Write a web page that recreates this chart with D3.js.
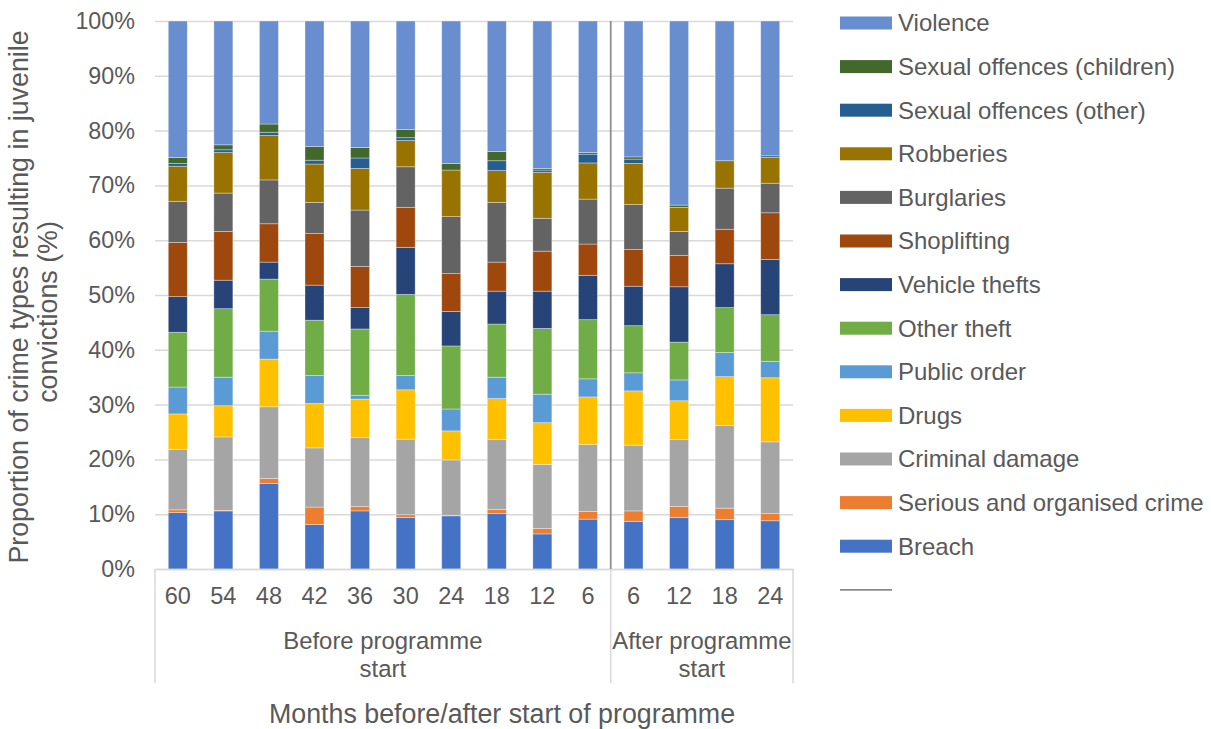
<!DOCTYPE html>
<html>
<head>
<meta charset="utf-8">
<script src="https://cdn.jsdelivr.net/npm/d3@7"></script>
<style>
  html, body { margin: 0; padding: 0; background: #ffffff; }
  svg { display: block; font-family: "Liberation Sans", Arial, sans-serif; }
  text { fill: #595959; }
</style>
</head>
<body>
<svg id="chart" width="1211" height="729"></svg>
<script>
// Months relative to programme start, grouped into before / after
const monthLabels = ["60", "54", "48", "42", "36", "30", "24", "18", "12", "6", "6", "12", "18", "24"];
const periodGroups = [
  { lines: ["Before programme", "start"], from: 0, to: 10 },
  { lines: ["After programme", "start"], from: 10, to: 14 }
];

// Share of juvenile convictions by crime type (%), bottom of stack first
const seriesNames = [
  "Breach", "Serious and organised crime", "Criminal damage", "Drugs", "Public order",
  "Other theft", "Vehicle thefts", "Shoplifting", "Burglaries", "Robberies",
  "Sexual offences (other)", "Sexual offences (children)", "Violence"
];
const breach         = [10.3, 10.6, 15.6, 8.1, 10.6, 9.4, 9.7, 10.1, 6.4, 9.1, 8.7, 9.4, 9.0, 8.8];
const seriousCrime   = [0.5, 0.1, 0.9, 3.2, 0.8, 0.5, 0.1, 0.8, 1.0, 1.4, 1.9, 2.0, 2.1, 1.3];
const criminalDamage = [11.0, 13.4, 13.1, 10.8, 12.6, 13.8, 10.1, 12.7, 11.7, 12.2, 12.0, 12.2, 15.1, 13.1];
const drugs          = [6.5, 5.7, 8.7, 8.1, 7.0, 9.0, 5.3, 7.5, 7.6, 8.7, 9.9, 7.1, 8.9, 11.7];
const publicOrder    = [4.9, 5.2, 5.1, 5.1, 0.7, 2.6, 4.0, 3.9, 5.2, 3.3, 3.3, 3.8, 4.4, 3.0];
const otherTheft     = [10.0, 12.5, 9.5, 10.1, 12.1, 14.8, 11.5, 9.7, 12.0, 10.8, 8.6, 6.9, 8.2, 8.5];
const vehicleThefts  = [6.5, 5.2, 3.1, 6.4, 3.9, 8.6, 6.3, 6.0, 6.8, 8.1, 7.2, 10.1, 8.0, 10.1];
const shoplifting    = [9.9, 8.9, 7.0, 9.4, 7.5, 7.3, 6.9, 5.3, 7.3, 5.7, 6.7, 5.7, 6.3, 8.5];
const burglaries     = [7.5, 7.0, 8.0, 5.7, 10.3, 7.4, 10.4, 10.9, 6.0, 8.2, 8.2, 4.4, 7.5, 5.4];
const robberies      = [6.4, 7.4, 8.1, 7.0, 7.6, 4.8, 8.5, 5.8, 8.4, 6.6, 7.5, 4.4, 5.0, 4.7];
const sexualOther    = [0.5, 0.5, 0.6, 0.7, 1.9, 0.5, 0.0, 1.8, 0.4, 1.6, 0.8, 0.0, 0.0, 0.3];
const sexualChildren = [1.1, 0.9, 1.5, 2.5, 1.9, 1.5, 1.2, 1.7, 0.3, 0.3, 0.4, 0.4, 0.0, 0.0];
const violence       = [24.9, 22.6, 18.8, 22.9, 23.1, 19.8, 26.0, 23.8, 26.9, 24.0, 24.8, 33.6, 25.5, 24.6];
const seriesValues = [breach, seriousCrime, criminalDamage, drugs, publicOrder, otherTheft,
  vehicleThefts, shoplifting, burglaries, robberies, sexualOther, sexualChildren, violence];
const seriesColors = ["#4472C4", "#ED7D31", "#A5A5A5", "#FFC000", "#5B9BD5", "#70AD47",
  "#264478", "#9E480E", "#636363", "#997300", "#255E91", "#43682B", "#698ED0"];
const yTicks = [0, 10, 20, 30, 40, 50, 60, 70, 80, 90, 100];

const svg = d3.select("#chart");
const plot = { left: 155, right: 793, top: 21, bottom: 569 };

// One row per month column, keyed by series name
const rows = monthLabels.map((m, i) => {
  const r = { idx: i };
  seriesNames.forEach((s, k) => { r[s] = seriesValues[k][i]; });
  return r;
});
const stacked = d3.stack().keys(seriesNames)(rows);

const x = d3.scaleBand()
  .domain(d3.range(monthLabels.length))
  .range([plot.left, plot.right])
  .paddingInner(0.583)
  .paddingOuter(0.2915);
const y = d3.scaleLinear().domain([0, 100]).range([plot.bottom, plot.top]);
const color = d3.scaleOrdinal().domain(seriesNames).range(seriesColors);

// Horizontal gridlines
svg.append("g")
  .attr("transform", `translate(${plot.left},0)`)
  .call(d3.axisLeft(y).tickValues(yTicks).tickSize(-(plot.right - plot.left)).tickFormat(""))
  .call(g => g.select(".domain").remove())
  .call(g => g.selectAll("line").attr("stroke", "#d9d9d9").attr("stroke-width", 1.5));

// Y tick labels
svg.append("g")
  .attr("transform", `translate(${plot.left - 8},0)`)
  .call(d3.axisLeft(y).tickValues(yTicks).tickSize(0).tickPadding(12).tickFormat(d => d + "%"))
  .call(g => g.select(".domain").remove())
  .call(g => g.selectAll("text").attr("font-size", 23.3).attr("fill", "#595959")
    .attr("font-family", "'Liberation Sans', Arial, sans-serif"));

// Stacked bars
svg.append("g").selectAll("g")
  .data(stacked)
  .join("g")
  .attr("fill", d => color(d.key))
  .selectAll("rect")
  .data(d => d)
  .join("rect")
  .attr("x", d => x(d.data.idx))
  .attr("width", x.bandwidth())
  .attr("y", d => y(d[1]))
  .attr("height", d => Math.max(0, y(d[0]) - y(d[1])))
  .attr("stroke", "#ffffff")
  .attr("stroke-opacity", 0.45)
  .attr("stroke-width", 0.75);

// Bottom category axis
const xAxis = svg.append("g")
  .attr("transform", `translate(0,${plot.bottom})`)
  .call(d3.axisBottom(x).tickSize(0).tickPadding(18).tickFormat(i => monthLabels[i]));
xAxis.select(".domain").attr("stroke", "#d9d9d9").attr("stroke-width", 1.5);
xAxis.selectAll("text").attr("font-size", 23.5).attr("fill", "#595959")
  .attr("font-family", "'Liberation Sans', Arial, sans-serif");

// Group separators below the axis and group labels
const step = x.step();
const groupEdge = i => plot.left + i * step;
const sepX = [0, 10, 14].map(groupEdge);
svg.append("g").selectAll("line")
  .data(sepX)
  .join("line")
  .attr("x1", d => d).attr("x2", d => d)
  .attr("y1", plot.bottom).attr("y2", 683)
  .attr("stroke", "#d9d9d9").attr("stroke-width", 1.5);

periodGroups.forEach(gp => {
  const cx = (groupEdge(gp.from) + groupEdge(gp.to)) / 2;
  const t = svg.append("text")
    .attr("text-anchor", "middle")
    .attr("font-size", 23.9);
  gp.lines.forEach((ln, j) => {
    t.append("tspan").attr("x", cx).attr("y", 649 + j * 28).text(ln);
  });
});

// Marker line between before and after programme start
svg.append("line")
  .attr("x1", groupEdge(10)).attr("x2", groupEdge(10))
  .attr("y1", plot.top).attr("y2", plot.bottom)
  .attr("stroke", "#8c8c8c").attr("stroke-width", 1.75);

// Axis titles
svg.append("text")
  .attr("x", 502).attr("y", 723)
  .attr("text-anchor", "middle")
  .attr("font-size", 26.8)
  .text("Months before/after start of programme");

const yTitle = svg.append("text")
  .attr("transform", "rotate(-90)")
  .attr("text-anchor", "middle")
  .attr("font-size", 26.8);
yTitle.append("tspan").attr("x", -297).attr("y", 28).text("Proportion of crime types resulting in juvenile");
yTitle.append("tspan").attr("x", -312).attr("y", 57).text("convictions (%)");

// Legend, top of stack first, then the marker line entry
const legendItems = seriesNames.slice().reverse();
const legend = svg.append("g");
const rowY = i => 23 + i * 43.6;
legendItems.forEach((name, i) => {
  legend.append("rect")
    .attr("x", 840).attr("y", rowY(i) - 6.5)
    .attr("width", 52).attr("height", 13)
    .attr("fill", color(name));
  legend.append("text")
    .attr("x", 898).attr("y", rowY(i))
    .attr("dy", "0.35em")
    .attr("font-size", 24)
    .text(name);
});
legend.append("line")
  .attr("x1", 840).attr("x2", 892)
  .attr("y1", rowY(legendItems.length)).attr("y2", rowY(legendItems.length))
  .attr("stroke", "#8c8c8c").attr("stroke-width", 1.75);
</script>
</body>
</html>
